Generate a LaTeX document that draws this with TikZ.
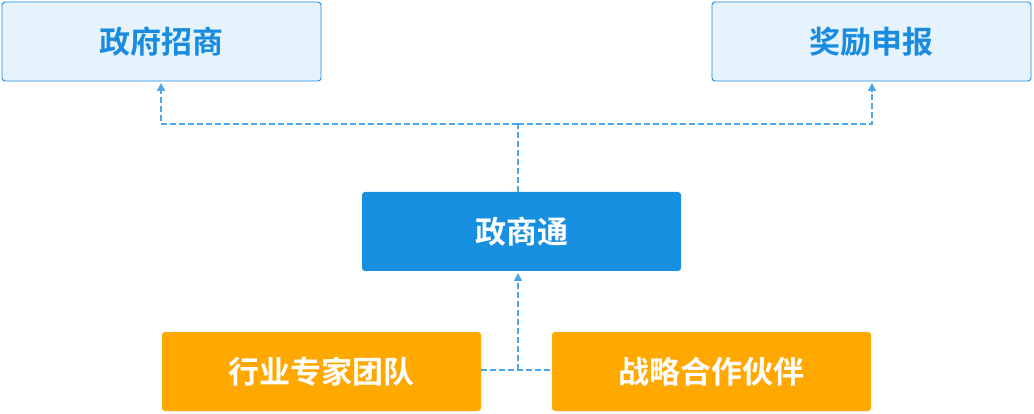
\documentclass[tikz,border=0pt]{standalone}
\usepackage{fontspec}
\newfontfamily\cjk{Noto Sans CJK SC}[BoldFont={* Bold}]
\usetikzlibrary{arrows.meta}
\definecolor{lightfill}{HTML}{E6F3FC}
\definecolor{bluetxt}{HTML}{1A8CE0}
\definecolor{mainblue}{HTML}{1890E1}
\definecolor{orangefill}{HTML}{FFA800}
\definecolor{linkblue}{HTML}{4CA6E8}
\tikzset{
  topbox/.style={draw=bluetxt, line width=0.9pt, fill=lightfill, rounded corners=3pt,
    minimum width=319pt, minimum height=79pt, inner sep=0pt,
    font=\cjk\bfseries\fontsize{31}{34}\selectfont, text=bluetxt},
  midbox/.style={fill=mainblue, rounded corners=3pt,
    minimum width=319pt, minimum height=79pt, inner sep=0pt,
    font=\cjk\bfseries\fontsize{31}{34}\selectfont, text=white},
  orangebox/.style={fill=orangefill, rounded corners=3pt,
    minimum width=319pt, minimum height=79pt, inner sep=0pt,
    font=\cjk\bfseries\fontsize{31}{34}\selectfont, text=white},
  link/.style={draw=linkblue, line width=1.3pt, dash pattern=on 6pt off 3pt},
  linkarrow/.style={link, -{Triangle[width=8pt,length=8pt]}},
}
\begin{document}
\begin{tikzpicture}[x=1pt,y=-1pt]
\useasboundingbox (0,0) rectangle (1034,414);
\node[topbox] (zfzs) at (161.5,41.5) {政府招商};
\node[topbox] (jlsb) at (871.5,41.5) {奖励申报};
\node[midbox] (zst) at (521.5,231.5) {政商通};
\node[orangebox] (hyzj) at (321.5,371.5) {行业专家团队};
\node[orangebox] (zlhz) at (711.5,371.5) {战略合作伙伴};
\coordinate (topj) at (518,124);
\coordinate (botj) at (518,370);
\draw[link] (518,192) -- (topj);
\draw[linkarrow] (topj) -- (161,124) -- (161,83);
\draw[linkarrow] (topj) -- (872,124) -- (872,83);
\draw[link] (hyzj.east |- botj) -- (zlhz.west |- botj);
\draw[linkarrow] (botj) -- (518,273);
\end{tikzpicture}
\end{document}
